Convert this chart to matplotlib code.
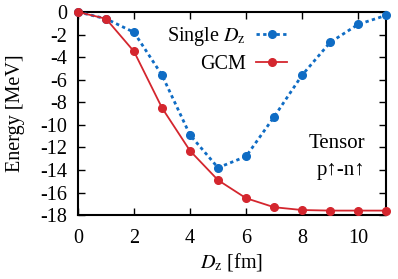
import matplotlib
matplotlib.use("Agg")
import matplotlib.pyplot as plt

# Data
dz = [0, 1, 2, 3, 4, 5, 6, 7, 8, 9, 10, 11]
single_dz = [0, -0.6, -1.8, -5.6, -10.9, -13.8, -12.8, -9.3, -5.6, -2.7, -1.1, -0.3]
gcm = [0, -0.6, -3.5, -8.5, -12.3, -14.9, -16.5, -17.3, -17.55, -17.6, -17.6, -17.6]

plt.rcParams['font.family'] = ['Liberation Serif', 'DejaVu Serif']
plt.rcParams['mathtext.fontset'] = 'stix'
plt.rcParams['axes.unicode_minus'] = False

fs = 14.5
fig = plt.figure(figsize=(3.98, 2.79), dpi=100)
ax = fig.add_axes([0.196, 0.229, 0.774, 0.728])

blue = '#0f6cc4'
red = '#d4262e'
ax.plot(dz, single_dz, linestyle=(0, (1.2, 1.2)), color=blue, lw=2, marker='o', ms=5.5,
        label=r'Single $D_{\rm z}$', clip_on=False, zorder=3)
ax.plot(dz, gcm, '-', color=red, lw=1.3, marker='o', ms=5.5,
        label='GCM', clip_on=False, zorder=4)

ax.set_xlim(0, 11)
ax.set_ylim(-18, 0)
ax.set_xticks([0, 2, 4, 6, 8, 10])
ax.set_yticks(range(-18, 1, 2))
ax.tick_params(direction='in', top=True, right=True, labelsize=fs, length=5, width=1)
ax.tick_params(axis='x', pad=10)
ax.tick_params(axis='y', pad=8)
for s in ax.spines.values():
    s.set_linewidth(1.5)

ax.set_xlabel(r'$D_{\rm z}$ [fm]', fontsize=fs, labelpad=2)
ax.set_ylabel('Energy [MeV]', fontsize=fs, labelpad=11)

ax.legend(loc='upper right', bbox_to_anchor=(0.725, 1.005), frameon=False, markerfirst=False,
          fontsize=fs, handlelength=1.55, handletextpad=0.5, labelspacing=0.35,
          borderpad=0.2)

ax.text(0.932, 0.355, 'Tensor', transform=ax.transAxes, ha='right', va='center', fontsize=fs + 0.5)
ax.text(0.932, 0.22, 'p↑-n↑', transform=ax.transAxes, ha='right', va='center', fontsize=fs + 0.5)

fig.savefig('out.png', dpi=100)
